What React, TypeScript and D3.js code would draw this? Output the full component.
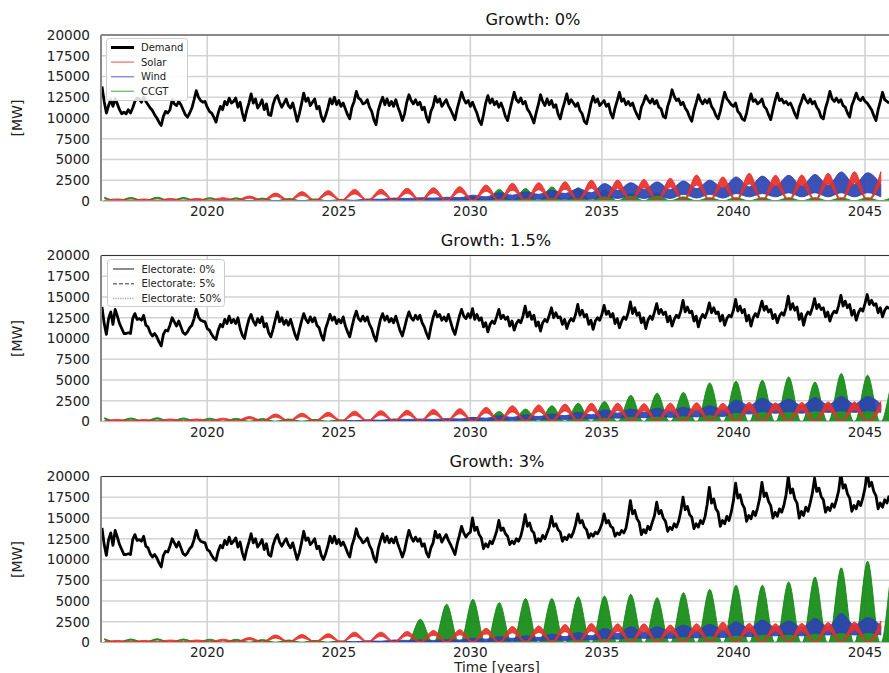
import React from 'react';
import * as d3 from 'd3';

// ---------- DATA ----------
const startYear = 2016;
const yearLabels = [2016, 2017, 2018, 2019, 2020, 2021, 2022, 2023, 2024, 2025, 2026, 2027, 2028, 2029, 2030,
  2031, 2032, 2033, 2034, 2035, 2036, 2037, 2038, 2039, 2040, 2041, 2042, 2043, 2044, 2045];
const xTicks = [2020, 2025, 2030, 2035, 2040, 2045];
const yTicks = [0, 2500, 5000, 7500, 10000, 12500, 15000, 17500, 20000];
const titles = ['Growth: 0%', 'Growth: 1.5%', 'Growth: 3%'];
const seriesNames = ['Demand', 'Solar', 'Wind', 'CCGT'];
const electorateNames = ['Electorate: 0%', 'Electorate: 5%', 'Electorate: 50%'];

// monthly demand [MW], one row per year (Jan..Dec)
const demand0 = [
  13800, 12000, 10600, 11500, 12200, 11400, 12300, 11700, 11000, 10500, 10700, 10500,
  11000, 10600, 11200, 12000, 12400, 12300, 11900, 12500, 12000, 11600, 11200, 10900,
  10400, 10000, 9500, 9100, 10200, 10800, 10600, 11000, 12200, 11700, 11500, 12000,
  11600, 11000, 10400, 10100, 10600, 11200, 12200, 13300, 12500, 12100, 11900, 12000,
  11300, 10800, 10600, 10100, 9500, 10600, 11400, 11000, 12000, 11600, 12400, 11800,
  12000, 12400, 11300, 11900, 10600, 9700, 10900, 11800, 12900, 11800, 12300, 11200,
  11600, 12200, 11000, 11700, 10400, 10300, 11600, 12400, 12700, 11900, 11300, 11800,
  12300, 11500, 11200, 11800, 10800, 9600, 10500, 11700, 13000, 12000, 12400, 11500,
  11900, 12300, 11100, 11400, 10200, 9600, 10300, 11200, 12300, 11700, 12500, 11600,
  12100, 11400, 11800, 11100, 10400, 9900, 11300, 12000, 13200, 12400, 12200, 11700,
  11800, 12200, 11300, 10800, 9800, 9200, 10900, 11800, 12500, 11600, 12300, 11500,
  12000, 11400, 12200, 11300, 10600, 9700, 10500, 11900, 12800, 12100, 11700, 12200,
  11600, 11900, 11000, 11300, 10100, 9500, 10800, 11400, 12600, 11900, 12300, 11400,
  11800, 12200, 11500, 11000, 10400, 9800, 11100, 12100, 13100, 12300, 11800, 12100,
  11400, 11900, 11200, 10600, 9700, 9200, 10400, 11800, 12700, 11800, 12300, 11600,
  12000, 11300, 11800, 11100, 10200, 9700, 10900, 12000, 13100, 12200, 11900, 12400,
  11700, 12000, 11100, 10700, 10100, 9400, 10600, 11600, 12800, 12000, 11500, 12300,
  11600, 12100, 11300, 11600, 10500, 9900, 11000, 11900, 12900, 11700, 12200, 11800,
  11400, 11800, 10900, 10500, 9600, 9300, 10400, 11700, 12600, 11900, 12300, 11500,
  11800, 12100, 11400, 11700, 10600, 10000, 11200, 12100, 13100, 12000, 12300, 11600,
  12000, 11500, 11800, 11000, 10400, 9900, 11300, 11900, 12700, 12200, 11800, 12300,
  11700, 12100, 11300, 11100, 10200, 10000, 11400, 12200, 13400, 12600, 12100, 12300,
  11600, 11900, 11200, 10800, 10100, 9600, 10900, 11800, 12800, 12100, 11700, 12200,
  11800, 12300, 11400, 11000, 10300, 9900, 10800, 12000, 13100, 12300, 12000, 11600,
  11400, 11800, 10800, 10500, 9900, 9700, 10600, 11900, 12900, 12000, 12200, 11700,
  11900, 12300, 11400, 11100, 10400, 9800, 11000, 12100, 13000, 12100, 12300, 11800,
  12000, 11600, 11800, 11200, 10500, 10000, 11300, 12000, 12800, 12200, 11800, 12300,
  11700, 12000, 11300, 10900, 10100, 9900, 11200, 12100, 13200, 12300, 12000, 12400,
  11900, 12200, 11500, 11300, 10600, 10100, 11500, 12200, 13000, 12300, 12100, 12500,
  12000, 11800, 11400, 11000, 10300, 9700, 11000, 12000, 13100, 12200, 12000, 11800,
];

// 2016-2020 demand shared by the 1.5% and 3% runs
const demandEarly = [
  13800, 11800, 10500, 12400, 13200, 11700, 13500, 12700, 11800, 11200, 10600, 10600,
  10700, 10600, 12400, 13000, 12300, 12400, 12200, 12800, 11600, 11400, 10700, 10300,
  10600, 10200, 9600, 9100, 10500, 11000, 10900, 11600, 12500, 12000, 11500, 12100,
  11400, 10700, 10500, 10800, 11300, 11600, 12400, 13500, 12600, 12200, 12100, 12000,
  11200, 11000, 10500, 10100, 9900, 11000, 11700, 11400, 12300, 11800, 12700, 11900,
];

const demand15Late = [
  12300, 11800, 12500, 11200, 10400, 10000, 11300, 12300, 12900, 12100, 11600, 12400,
  11900, 12600, 11400, 11800, 10700, 10200, 11100, 12200, 13200, 12000, 12500, 11700,
  12200, 11600, 12300, 11400, 10500, 9900, 11000, 12100, 13000, 12300, 11900, 12600,
  12000, 12500, 11600, 11300, 10400, 9800, 11200, 12000, 12900, 12200, 12600, 11800,
  12300, 11900, 12600, 11500, 10800, 10200, 11400, 12500, 13300, 12400, 12100, 12700,
  12100, 12600, 11700, 11200, 10300, 9700, 11100, 12300, 13000, 12200, 12700, 12000,
  12400, 11900, 12700, 11800, 10900, 10300, 11300, 12400, 13200, 12500, 12200, 12800,
  12300, 12800, 11900, 11400, 10600, 10000, 11400, 12500, 13300, 12600, 12900, 12200,
  12600, 12100, 12900, 12000, 11100, 10500, 11600, 12700, 13500, 12700, 12400, 13000,
  12500, 13600, 12300, 12900, 12200, 12500, 11400, 11900, 10800, 11700, 12100, 11800,
  12600, 13500, 12400, 12800, 12300, 12600, 11500, 12100, 11000, 11800, 12200, 11900,
  12700, 13900, 12600, 13200, 12300, 12800, 11500, 12000, 10900, 11900, 12300, 12000,
  12800, 13700, 12500, 13100, 12500, 12600, 11700, 12300, 11200, 12000, 12400, 12100,
  12900, 14100, 12800, 13400, 12600, 12900, 11700, 12200, 11100, 12100, 12500, 12200,
  12900, 14000, 12900, 13300, 12600, 13000, 11800, 12400, 11300, 12100, 12600, 12300,
  13100, 14400, 13000, 13700, 12800, 13100, 11900, 12500, 11200, 12200, 12700, 12300,
  13200, 14200, 13000, 13500, 12900, 13200, 12000, 12700, 11500, 12300, 12800, 12500,
  13300, 14600, 13200, 13800, 13100, 13300, 12100, 12700, 11400, 12400, 12900, 12500,
  13200, 14300, 13100, 13700, 13000, 13200, 12100, 12800, 11600, 12400, 12800, 12600,
  13400, 14700, 13300, 13900, 13100, 13500, 12100, 12800, 11500, 12500, 13000, 12600,
  13500, 14500, 13400, 13900, 13200, 13500, 12400, 12900, 11900, 12700, 13100, 12800,
  13700, 15100, 13500, 14200, 13400, 13800, 12300, 13000, 11600, 12700, 13200, 12900,
  13700, 14800, 13600, 14100, 13500, 13700, 12600, 13200, 12100, 12900, 13300, 13100,
  14000, 15200, 13900, 14500, 13700, 14100, 12800, 13400, 12200, 13100, 13600, 13300,
  14200, 15300, 14100, 14600, 14000, 14200, 13100, 13700, 12600, 13400, 13800, 13600,
];

const demand3Late = [
  12200, 12600, 11500, 12100, 10800, 10000, 11200, 12100, 13100, 12000, 12500, 11500,
  11900, 12400, 11200, 11900, 10600, 10400, 11700, 12500, 13000, 12100, 11600, 12100,
  12500, 11800, 11400, 12000, 11000, 10000, 10800, 12000, 13400, 12300, 12600, 11800,
  12100, 12500, 11300, 11600, 10500, 10000, 10700, 11600, 12800, 12000, 12800, 11900,
  12400, 11700, 12100, 11500, 10800, 10300, 11700, 12500, 13700, 12800, 12500, 12000,
  12200, 12600, 11700, 11200, 10200, 9700, 11300, 12300, 13100, 12100, 12800, 12000,
  12500, 12000, 12700, 11800, 11100, 10300, 11100, 12400, 13500, 12700, 12200, 12700,
  12200, 12500, 11600, 11900, 10800, 10300, 11400, 12000, 13400, 12600, 13000, 12100,
  12600, 13000, 12300, 11800, 11200, 10600, 11900, 12900, 14000, 13200, 12700, 13100,
  13300, 15000, 13500, 13900, 13000, 12600, 11300, 11900, 11500, 12200, 11900, 12600,
  13400, 14700, 13500, 13800, 13100, 12800, 11800, 12200, 11900, 12500, 12200, 12800,
  13900, 15400, 14000, 14400, 13500, 13200, 12000, 12500, 12200, 12900, 12500, 13200,
  13900, 15200, 14000, 14300, 13600, 13300, 12200, 12700, 12400, 13000, 12700, 13300,
  14200, 15500, 14400, 14700, 13900, 13600, 12600, 13100, 12800, 13300, 13100, 13600,
  14300, 15500, 14400, 14700, 14000, 13800, 12800, 13200, 13000, 13500, 13200, 13800,
  15300, 17100, 15500, 15900, 14900, 14500, 13000, 13600, 13200, 14000, 13600, 14500,
  15300, 16900, 15500, 15900, 15000, 14600, 13400, 13900, 13600, 14300, 13900, 14600,
  15800, 17500, 16000, 16400, 15400, 15100, 13700, 14300, 13900, 14700, 14300, 15100,
  16600, 18700, 16800, 17300, 16100, 15700, 14000, 14700, 14300, 15200, 14700, 15700,
  17100, 19200, 17400, 17800, 16700, 16200, 14600, 15300, 14900, 15800, 15300, 16200,
  17400, 19300, 17600, 18000, 17000, 16500, 15000, 15700, 15200, 16100, 15700, 16500,
  17800, 20000, 18000, 18500, 17300, 16800, 15000, 15800, 15300, 16300, 15800, 16800,
  18000, 19800, 18200, 18600, 17600, 17200, 15700, 16300, 15900, 16700, 16300, 17200,
  18300, 20400, 18600, 19000, 17900, 17400, 15800, 16500, 16100, 17000, 16500, 17400,
  18600, 20600, 18800, 19300, 18200, 17700, 16100, 16800, 16300, 17200, 16800, 17700,
];

// solar: summer peak envelope (upper / lower of the ensemble), per year
const solarHi0 = [250, 250, 300, 300, 400, 600, 950, 1120, 1250, 1400, 1420, 1530, 1600, 1720, 1930, 2130, 2210, 2330, 2500, 2530, 2600, 2730, 3130, 2900, 3340, 3100, 3130, 3340, 3530, 3530];
const solarLo0 = [120, 120, 150, 150, 200, 340, 560, 680, 760, 850, 860, 930, 970, 1050, 1180, 1300, 1350, 1420, 1530, 1550, 1600, 1680, 1930, 1780, 2060, 1900, 1930, 2060, 2180, 2180];
const solarHi15 = [250, 250, 300, 300, 400, 600, 900, 1000, 1100, 1250, 1300, 1350, 1450, 1550, 1700, 1900, 2000, 2100, 2200, 2200, 2150, 2200, 2250, 2200, 2300, 2250, 2300, 2350, 2350, 2400];
const solarLo15 = [120, 120, 150, 150, 200, 340, 530, 600, 660, 750, 780, 810, 870, 930, 1030, 1150, 1210, 1270, 1330, 1330, 1300, 1330, 1360, 1330, 1400, 1360, 1400, 1420, 1420, 1450];
const solarHi3 = [250, 250, 300, 300, 400, 600, 900, 950, 1050, 1250, 1250, 1330, 1450, 1550, 1700, 1930, 2000, 2170, 2290, 2250, 2250, 2100, 2250, 2450, 2300, 2250, 2300, 2400, 2450, 2600];
const solarLo3 = [120, 120, 150, 150, 200, 340, 530, 570, 630, 750, 750, 800, 870, 930, 1030, 1170, 1210, 1310, 1390, 1360, 1360, 1270, 1360, 1480, 1390, 1360, 1390, 1450, 1480, 1580];
const solarWinter = [0, 100]; // winter trough: lower / upper

// wind: winter (W) and summer (S) upper / lower envelope, per year
const windHiW0 = [0, 0, 0, 0, 0, 0, 0, 0, 0, 100, 250, 350, 400, 450, 700, 1000, 1100, 1300, 1500, 2100, 2200, 2300, 2400, 2500, 2900, 3000, 3100, 3200, 3500, 3400];
const windHiS0 = [0, 0, 0, 0, 0, 0, 0, 0, 0, 80, 200, 300, 350, 400, 500, 700, 800, 900, 1000, 1300, 1400, 1400, 1500, 1600, 1700, 1800, 1800, 1900, 2000, 2000];
const windLoW0 = [0, 0, 0, 0, 0, 0, 0, 0, 0, 20, 60, 100, 100, 120, 150, 300, 350, 400, 400, 600, 700, 700, 800, 800, 900, 900, 1000, 1000, 1000, 1000];
const windLoS0 = [0, 0, 0, 0, 0, 0, 0, 0, 0, 10, 40, 60, 60, 80, 100, 150, 200, 200, 200, 300, 300, 300, 350, 350, 500, 500, 500, 500, 500, 500];
const windHiW15 = [0, 0, 0, 0, 0, 0, 0, 0, 0, 100, 200, 300, 300, 350, 500, 700, 800, 900, 1100, 1400, 1500, 1600, 1700, 1900, 2600, 2800, 2700, 2900, 3000, 3000];
const windHiS15 = [0, 0, 0, 0, 0, 0, 0, 0, 0, 80, 150, 250, 250, 300, 400, 500, 600, 700, 800, 1000, 1100, 1200, 1300, 1400, 1900, 2000, 1900, 2000, 2100, 2100];
const windLoW15 = [0, 0, 0, 0, 0, 0, 0, 0, 0, 20, 50, 80, 100, 120, 200, 250, 300, 350, 400, 500, 600, 650, 700, 800, 1100, 1200, 1200, 1300, 1300, 1300];
const windLoS15 = [0, 0, 0, 0, 0, 0, 0, 0, 0, 10, 30, 50, 60, 80, 100, 150, 200, 250, 300, 400, 450, 500, 550, 600, 900, 1000, 1000, 1100, 1100, 1100];
const windHiW3 = [0, 0, 0, 0, 0, 0, 0, 0, 0, 100, 200, 300, 300, 350, 500, 700, 800, 1000, 1200, 1700, 1900, 1900, 2100, 2200, 2500, 2700, 2600, 2900, 3500, 3000];
const windHiS3 = [0, 0, 0, 0, 0, 0, 0, 0, 0, 80, 150, 250, 250, 300, 400, 500, 600, 700, 800, 1100, 1200, 1300, 1400, 1500, 1700, 1800, 1800, 1900, 2100, 2000];
const windLoW3 = [0, 0, 0, 0, 0, 0, 0, 0, 0, 20, 50, 80, 100, 100, 150, 250, 300, 350, 400, 500, 600, 600, 700, 800, 900, 1000, 1000, 1100, 1200, 1200];
const windLoS3 = [0, 0, 0, 0, 0, 0, 0, 0, 0, 10, 30, 50, 50, 50, 100, 150, 200, 250, 300, 400, 500, 500, 550, 600, 700, 800, 800, 900, 900, 900];

// CCGT: winter peak (upper / lower of the ensemble), per year 2016..2046
const ccgtHi0 = [450, 420, 450, 420, 400, 380, 350, 300, 250, 200, 150, 150, 150, 200, 500, 1400, 1500, 1700, 1600, 1300, 900, 1000, 500, 400, 400, 400, 400, 400, 400, 400, 400];
const ccgtLo0 = [300, 280, 300, 280, 260, 250, 220, 180, 150, 100, 80, 80, 80, 100, 100, 0, 0, 0, 0, 0, 0, 0, 0, 0, 0, 0, 0, 0, 0, 0, 0];
const ccgtHi15 = [450, 420, 450, 420, 400, 380, 350, 300, 250, 200, 150, 150, 150, 200, 400, 1200, 1500, 1900, 2200, 2400, 3150, 3400, 3500, 4650, 4850, 4960, 5370, 4760, 5780, 5580, 5000];
const ccgtLo15 = [300, 280, 300, 280, 260, 250, 220, 180, 150, 100, 80, 80, 80, 100, 100, 0, 0, 0, 0, 0, 0, 0, 0, 0, 0, 0, 0, 0, 0, 0, 0];
const ccgtHi3 = [450, 420, 450, 420, 400, 380, 350, 300, 250, 200, 150, 200, 2800, 4600, 5200, 4800, 5300, 5300, 5500, 5600, 5800, 5400, 6000, 6400, 6900, 6900, 7300, 7900, 9000, 9800, 9500];
const ccgtLo3 = [300, 280, 300, 280, 260, 250, 220, 180, 150, 100, 80, 80, 0, 0, 0, 0, 0, 0, 0, 0, 0, 0, 0, 0, 0, 0, 0, 0, 0, 0, 0];
const ccgtSummer = [0, 40];

// ---------- STYLE / LAYOUT ----------
const W = 889, H = 673;
const X0 = 102, X1 = 891.3;
const panelTop = [35, 255.5, 476.5];
const PH = 166;
const titleX = [533, 496, 497];
const COL = { demand: '#000000', solar: '#e8302a', wind: '#2c43b0', ccgt: '#148a14' };
const LEG = { solar: '#f08a84', wind: '#8c8fdc', ccgt: '#7cc27c' };
const FONT = 'DejaVu Sans, Verdana, sans-serif';

type P = { t: number; lo: number; hi: number };

function buildPanel(i: number) {
  const demand = i === 0 ? demand0 : demandEarly.concat(i === 1 ? demand15Late : demand3Late);
  const sHi = [solarHi0, solarHi15, solarHi3][i];
  const sLo = [solarLo0, solarLo15, solarLo3][i];
  const wHW = [windHiW0, windHiW15, windHiW3][i];
  const wHS = [windHiS0, windHiS15, windHiS3][i];
  const wLW = [windLoW0, windLoW15, windLoW3][i];
  const wLS = [windLoS0, windLoS15, windLoS3][i];
  const cHi = [ccgtHi0, ccgtHi15, ccgtHi3][i];
  const cLo = [ccgtLo0, ccgtLo15, ccgtLo3][i];
  const demandPts = demand.map((v, k) => ({ t: startYear + k / 12, v }));
  const solar: P[] = [];
  yearLabels.forEach((y, k) => {
    solar.push({ t: y + 0.1, lo: solarWinter[0], hi: solarWinter[1] });
    solar.push({ t: y + 0.6, lo: sLo[k], hi: sHi[k] });
  });
  const wind: P[] = [];
  yearLabels.forEach((y, k) => {
    wind.push({ t: y + 0.1, lo: wLW[k], hi: wHW[k] });
    wind.push({ t: y + 0.6, lo: wLS[k], hi: wHS[k] });
  });
  const ccgt: P[] = [];
  cHi.forEach((h, k) => {
    const y = startYear + k;
    ccgt.push({ t: y + 0.1, lo: cLo[k], hi: h });
    ccgt.push({ t: y + 0.56, lo: ccgtSummer[0], hi: ccgtSummer[1] });
    ccgt.push({ t: y + 0.62, lo: ccgtSummer[0], hi: ccgtSummer[1] });
  });
  return { demandPts, solar, wind, ccgt };
}

function Panel({ i }: { i: number }) {
  const top = panelTop[i];
  const bottom = top + PH;
  const x = d3.scaleLinear().domain([2016, 2046]).range([X0, X1]);
  const y = d3.scaleLinear().domain([0, 20000]).range([bottom, top]);
  const d = buildPanel(i);
  const band = d3.area<P>().x(p => x(p.t)).y0(p => y(p.lo)).y1(p => y(p.hi)).curve(d3.curveMonotoneX);
  const line = d3.line<{ t: number; v: number }>().x(p => x(p.t)).y(p => y(p.v));
  const clipId = `clip${i}`;
  const bandEl = (pts: P[], c: string) => (
    <path d={band(pts) || ''} fill={c} fillOpacity={0.92} stroke={c} strokeWidth={1} strokeOpacity={0.9} />
  );
  const tickY = i === 2 ? bottom + 14.5 : bottom + 15;
  return (
    <g>
      <defs>
        <clipPath id={clipId}>
          <rect x={X0 - 1} y={top} width={X1 - X0 + 2} height={PH} />
        </clipPath>
      </defs>
      {yTicks.map(t => (
        <line key={'gy' + t} x1={X0} x2={X1} y1={y(t)} y2={y(t)} stroke="#d3d3d3" strokeWidth={1.6} />
      ))}
      {xTicks.map(t => (
        <line key={'gx' + t} x1={x(t)} x2={x(t)} y1={top} y2={bottom} stroke="#d3d3d3" strokeWidth={1.6} />
      ))}
      <g clipPath={`url(#${clipId})`}>
        {bandEl(d.ccgt, COL.ccgt)}
        {bandEl(d.wind, COL.wind)}
        {bandEl(d.solar, COL.solar)}
        <path d={line(d.demandPts) || ''} fill="none" stroke={COL.demand} strokeWidth={2.8} strokeLinejoin="round" />
      </g>
      <line x1={X0 - 1} x2={X1} y1={top} y2={top} stroke="#333" strokeWidth={1.2} />
      <line x1={X0 - 1} x2={X0 - 1} y1={top} y2={bottom} stroke="#888" strokeWidth={2} />
      <line x1={X0 - 1} x2={X1} y1={bottom} y2={bottom} stroke="#bbb" strokeWidth={1} />
      {yTicks.map(t => (
        <text key={'ty' + t} x={90} y={y(t)} dy="0.36em" textAnchor="end" fontSize={13.6} fill="#222" fontFamily={FONT}>{t}</text>
      ))}
      {xTicks.map(t => (
        <text key={'tx' + t} x={x(t)} y={tickY} textAnchor="middle" fontSize={13.6} fill="#222" fontFamily={FONT}>{t}</text>
      ))}
      <text transform={`translate(22,${(top + bottom) / 2}) rotate(-90)`} textAnchor="middle" fontSize={14} fill="#222" fontFamily={FONT}>[MW]</text>
      <text x={titleX[i]} y={top - 10} textAnchor="middle" fontSize={16.2} fill="#111" fontFamily={FONT}>{titles[i]}</text>
    </g>
  );
}

function Legend0() {
  const colors = [COL.demand, LEG.solar, LEG.wind, LEG.ccgt];
  const widths = [3, 1.5, 1.5, 1.5];
  return (
    <g>
      <rect x={106.5} y={38.5} width={81} height={62} rx={3} fill="#fff" fillOpacity={0.85} stroke="#cccccc" />
      {seriesNames.map((n, k) => (
        <g key={n}>
          <line x1={111} x2={134} y1={47.5 + k * 14.6} y2={47.5 + k * 14.6} stroke={colors[k]} strokeWidth={widths[k]} />
          <text x={141} y={47.5 + k * 14.6} dy="0.35em" fontSize={10} fill="#222" fontFamily={FONT}>{n}</text>
        </g>
      ))}
    </g>
  );
}

function Legend1() {
  const dash = ['', '4,2', '1.2,1.2'];
  const col = ['#666', '#777', '#aaa'];
  return (
    <g>
      <rect x={107.5} y={259.5} width={117} height={47} rx={3} fill="#fff" fillOpacity={0.85} stroke="#cccccc" />
      {electorateNames.map((n, k) => (
        <g key={n}>
          <line x1={113} x2={134} y1={269 + k * 14.7} y2={269 + k * 14.7} stroke={col[k]} strokeWidth={1.5} strokeDasharray={dash[k]} />
          <text x={141.5} y={269 + k * 14.7} dy="0.35em" fontSize={10} fill="#222" fontFamily={FONT}>{n}</text>
        </g>
      ))}
    </g>
  );
}

export default function App() {
  return (
    <svg width={W} height={H} viewBox={`0 0 ${W} ${H}`} style={{ position: 'absolute', left: 0, top: 0, background: '#fff' }}>
      <rect x={0} y={0} width={W} height={H} fill="#fff" />
      {[0, 1, 2].map(i => <Panel key={i} i={i} />)}
      <Legend0 />
      <Legend1 />
      <text x={497} y={671.5} textAnchor="middle" fontSize={13.6} fill="#222" fontFamily={FONT}>Time [years]</text>
    </svg>
  );
}
